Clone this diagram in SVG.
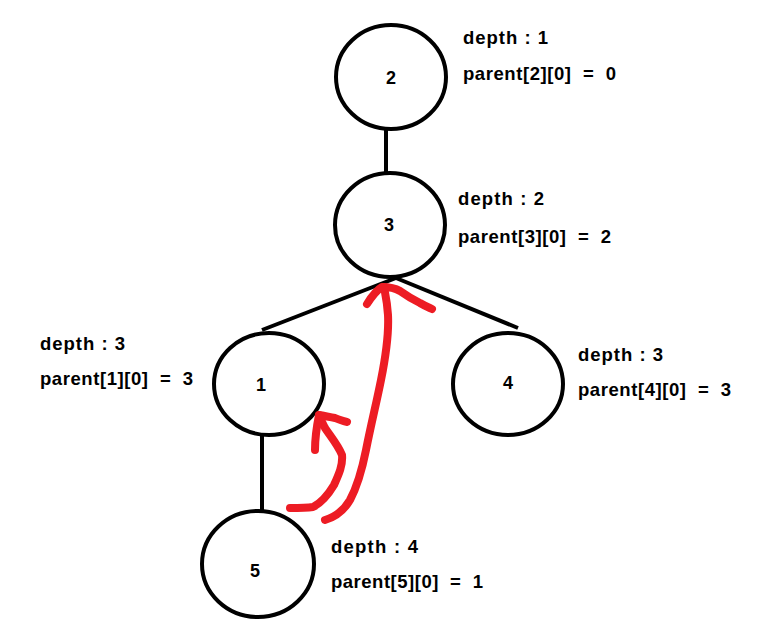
<svg xmlns="http://www.w3.org/2000/svg" width="779" height="630" viewBox="0 0 779 630">
<style>
.node{fill:#fff;stroke:#000;stroke-width:4}
.edge{stroke:#000;stroke-width:4;fill:none}
.lbl{font-family:"Liberation Sans",Arial,sans-serif;font-weight:bold;font-size:18px;fill:#000;text-anchor:middle}
.info{font-family:"Liberation Sans",Arial,sans-serif;font-weight:bold;font-size:18.5px;fill:#000;white-space:pre}
.red{stroke:#ed1c24;stroke-width:8;fill:none;stroke-linecap:round;stroke-linejoin:round}
</style>
<rect width="779" height="630" fill="#fff"/>
<g id="connectors">
<line class="edge" x1="386" y1="128" x2="386" y2="174"/>
<line class="edge" x1="396" y1="278" x2="262" y2="330"/>
<line class="edge" x1="396" y1="278" x2="518" y2="328"/>
<line class="edge" x1="262" y1="435" x2="262" y2="512"/>
</g>
<g id="node2"><ellipse class="node" cx="391" cy="77" rx="55" ry="52"/><text class="lbl" x="391" y="84">2</text></g>
<g id="node3"><ellipse class="node" cx="390" cy="225" rx="55" ry="52"/><text class="lbl" x="389" y="231">3</text></g>
<g id="node1"><ellipse class="node" cx="269" cy="384" rx="55" ry="51"/><text class="lbl" x="261" y="391">1</text></g>
<g id="node4"><ellipse class="node" cx="508" cy="384" rx="55" ry="51"/><text class="lbl" x="508" y="389">4</text></g>
<g id="node5"><ellipse class="node" cx="258" cy="564" rx="56" ry="53"/><text class="lbl" x="255" y="577">5</text></g>
<g id="info">
<text class="info" x="463" y="44" textLength="85">depth : 1</text>
<text class="info" x="463" y="80" textLength="153" xml:space="preserve">parent[2][0]  =  0</text>
<text class="info" x="458" y="205" textLength="86">depth : 2</text>
<text class="info" x="458" y="243" textLength="153" xml:space="preserve">parent[3][0]  =  2</text>
<text class="info" x="40" y="350" textLength="85">depth : 3</text>
<text class="info" x="40" y="385" textLength="153" xml:space="preserve">parent[1][0]  =  3</text>
<text class="info" x="578" y="361" textLength="85">depth : 3</text>
<text class="info" x="578" y="396" textLength="153" xml:space="preserve">parent[4][0]  =  3</text>
<text class="info" x="331" y="553" textLength="87">depth : 4</text>
<text class="info" x="331" y="588" textLength="152" xml:space="preserve">parent[5][0]  =  1</text>
</g>
<g id="arrows">
<path class="red" d="M325,520 C335,517 343,512 350,500 C358,485 362,470 366,450 C372,420 376,405 381,380 C386,355 389,335 388,315 C387,300 385,293 384,287"/>
<path class="red" d="M367,304 C372,296 377,290 382,287 C388,287 395,288 400,291 C407,296 414,300 420,303 C425,306 430,308 432,309"/>
<path class="red" d="M290,508 C297,508 306,508 313,507 C321,503 328,495 334,485 C339,474 343,465 342,455 C338,445 331,437 325,428 C322,422 320,418 319,415"/>
<path class="red" d="M315,450 C315,440 317,425 319,415 C324,416 330,417 335,418 C339,420 344,421 347,422"/>
</g>
</svg>
